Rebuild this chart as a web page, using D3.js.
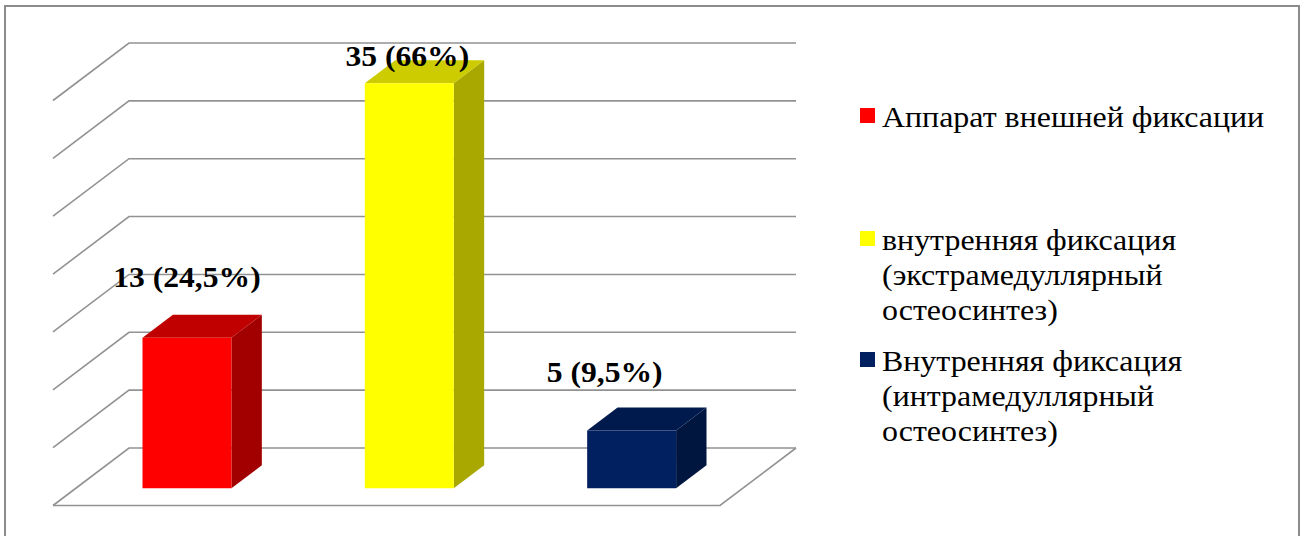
<!DOCTYPE html>
<html>
<head>
<meta charset="utf-8">
<script src="https://cdn.jsdelivr.net/npm/d3@7"></script>
<style>
  html, body { margin: 0; padding: 0; background: #fff; }
  svg { display: block; }
</style>
</head>
<body>
<svg id="chart" width="1304" height="536"></svg>
<script>
// Methods of fixation and number of patients
const categories = [
  "Аппарат внешней фиксации",
  "внутренняя фиксация (экстрамедуллярный остеосинтез)",
  "Внутренняя фиксация (интрамедуллярный остеосинтез)"
];
const counts = [13, 35, 5];
const shares = ["24,5%", "66%", "9,5%"];
const yTicks = [0, 5, 10, 15, 20, 25, 30, 35];
const legendLines = [
  ["Аппарат внешней фиксации"],
  ["внутренняя фиксация", "(экстрамедуллярный", "остеосинтез)"],
  ["Внутренняя фиксация", "(интрамедуллярный", "остеосинтез)"]
];

// face shading: front, top, side
const palette = [
  { front: "#ff0000", top: "#c00000", side: "#a20000" },
  { front: "#ffff00", top: "#cccc00", side: "#a8a800" },
  { front: "#002060", top: "#001a4e", side: "#00163e" }
];

const serif = "'Liberation Serif', Tinos, 'DejaVu Serif', serif";
const svg = d3.select("#chart");

// outer frame
svg.append("rect")
  .attr("x", 5).attr("y", 6).attr("width", 1294).attr("height", 545)
  .attr("fill", "#fff").attr("stroke", "#8c8c8c").attr("stroke-width", 2);

// oblique projection of the plot box
const floorFrontY = 505.5;
const depth = { dx: 76, dy: 57.5 };
const frontLeft = 53, frontRight = 720;

const x = d3.scaleBand().domain(categories)
  .range([frontLeft, frontRight])
  .paddingInner(0.6).paddingOuter(0.3);
const h = d3.scaleLinear().domain([0, 35]).range([0, 405]);

// screen position of (px along front, value height, depth 0..1)
const P = (px, v, d) => [px + d * depth.dx, floorFrontY - d * depth.dy - h(v)];

const grid = svg.append("g")
  .attr("fill", "none").attr("stroke", "#929292").attr("stroke-width", 1.6);

yTicks.forEach(t => {
  const a = P(frontLeft, t, 0), b = P(frontLeft, t, 1), c = P(frontRight, t, 1);
  grid.append("path").attr("d", d3.line()([a, b, c]));
});
// floor front edge and right edge
{
  const a = P(frontLeft, 0, 0), b = P(frontRight, 0, 0), c = P(frontRight, 0, 1);
  grid.append("path").attr("d", d3.line()([a, b, c]));
}

// bars as boxes
const d0 = 0.3, d1 = 0.7;
const bars = svg.append("g");
categories.forEach((cat, i) => {
  const v = counts[i];
  const xl = x(cat), xr = x(cat) + x.bandwidth();
  const col = palette[i];
  const poly = pts => bars.append("path").attr("d", d3.line()(pts) + "Z");
  // right side
  poly([P(xr, 0, d0), P(xr, 0, d1), P(xr, v, d1), P(xr, v, d0)]).attr("fill", col.side);
  // top
  poly([P(xl, v, d0), P(xr, v, d0), P(xr, v, d1), P(xl, v, d1)]).attr("fill", col.top);
  // front
  poly([P(xl, 0, d0), P(xr, 0, d0), P(xr, v, d0), P(xl, v, d0)]).attr("fill", col.front);
});

// value labels above the bars (hand-nudged per bar)
const nudge = [[0, -51], [-2, -17], [-27, -48]];
categories.forEach((cat, i) => {
  const [cx, cy] = P(x(cat) + x.bandwidth() / 2, counts[i], d0);
  svg.append("text")
    .attr("transform", `translate(${cx + nudge[i][0]},${cy + nudge[i][1]}) scale(1.09,1)`)
    .attr("text-anchor", "middle")
    .attr("font-family", serif)
    .attr("font-size", 29).attr("font-weight", "bold")
    .attr("fill", "#000")
    .text(`${counts[i]} (${shares[i]})`);
});

// legend
const legend = svg.append("g");
const entryY = [127, 250, 371];
legendLines.forEach((lines, i) => {
  legend.append("rect")
    .attr("x", 860).attr("y", entryY[i] - 19)
    .attr("width", 15).attr("height", 15)
    .attr("fill", palette[i].front);
  lines.forEach((ln, j) => {
    legend.append("text")
      .attr("transform", `translate(882,${entryY[i] + j * 35}) scale(1.12,1)`)
      .attr("font-family", serif)
      .attr("font-size", 28.5)
      .attr("fill", "#000")
      .text(ln);
  });
});
</script>
</body>
</html>
